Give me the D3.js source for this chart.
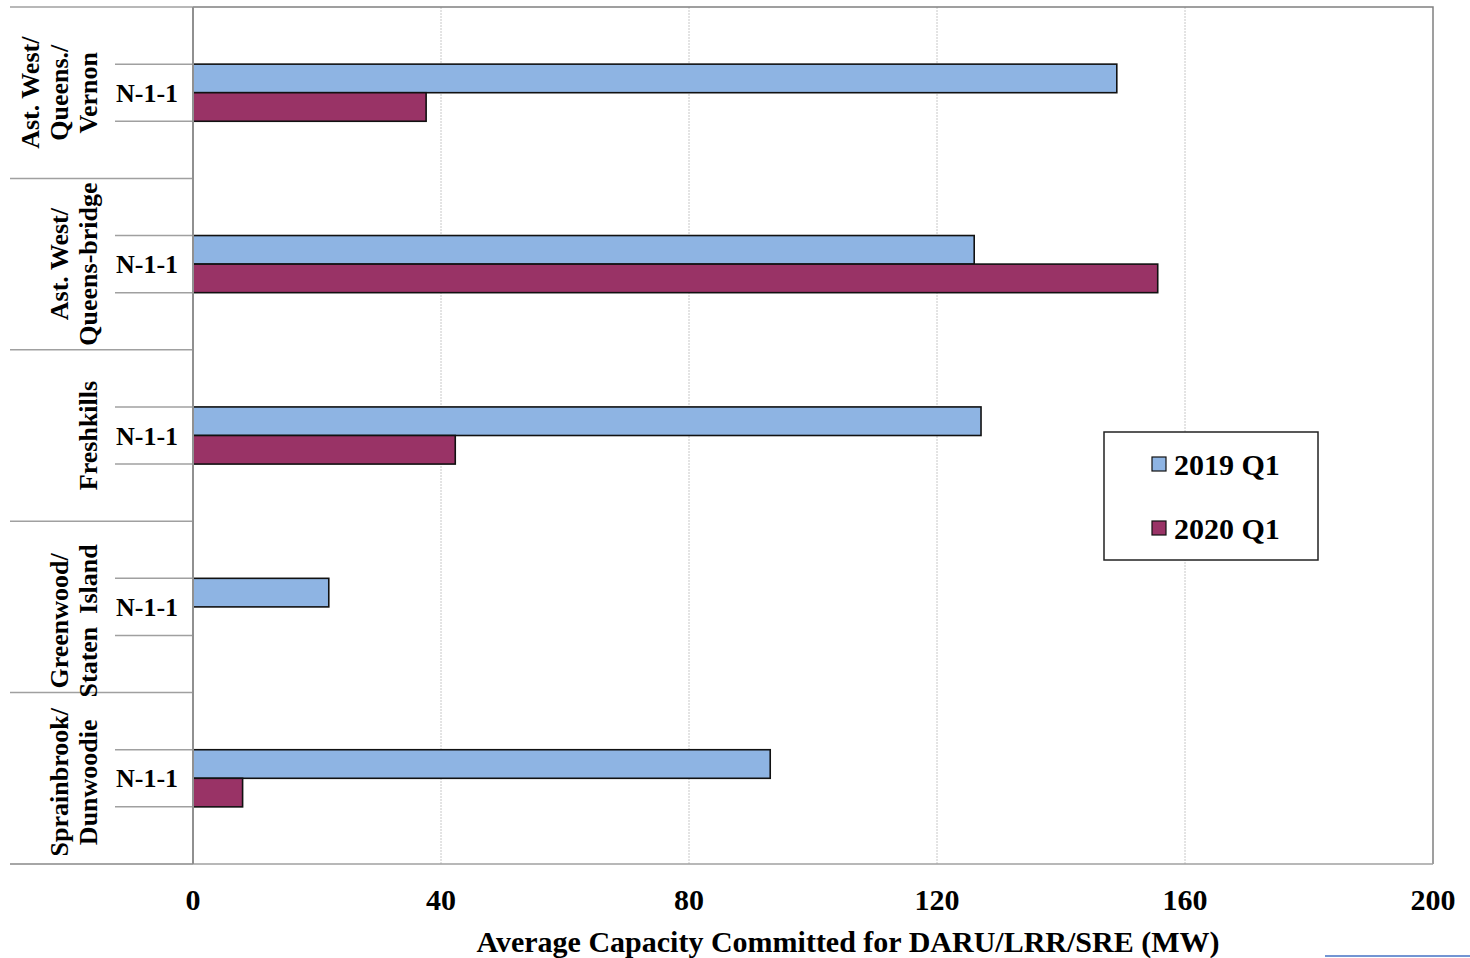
<!DOCTYPE html>
<html>
<head>
<meta charset="utf-8">
<script src="https://cdn.jsdelivr.net/npm/d3@7"></script>
<style>
  html, body { margin: 0; padding: 0; background: #fff; }
  svg { display: block; }
  text { font-family: "Liberation Serif", "Times New Roman", serif; font-weight: bold; fill: #000; white-space: pre; }
</style>
</head>
<body>
<svg id="chart" width="1470" height="958"></svg>
<script>
// Zones (outer categories), one contingency row each
const groups = [
  ["Ast. West/", "Queens./", "Vernon"],
  ["Ast. West/", "Queens-bridge"],
  ["Freshkills"],
  ["Greenwood/", "Staten  Island"],
  ["Sprainbrook/", "Dunwoodie"]
];
const subRows = ["pre", "N-1-1", "post"];
const seriesNames = ["2019 Q1", "2020 Q1"];
const seriesColors = ["#8EB4E3", "#993366"];
const values2019 = [149.0, 126.0, 127.1, 21.9, 93.1];
const values2020 = [37.6, 155.6, 42.3, 0, 8.0];
const xTicks = [0, 40, 80, 120, 160, 200];
const xTitle = "Average Capacity Committed for DARU/LRR/SRE (MW)";

const svg = d3.select("#chart");
const plotL = 193, plotR = 1433, plotT = 7, plotB = 864;

const x = d3.scaleLinear().domain([0, 200]).range([plotL, plotR]);
const yGroup = d3.scaleBand().domain(d3.range(groups.length)).range([plotT, plotB]).padding(0);
const ySub = d3.scaleBand().domain(subRows).range([0, yGroup.bandwidth()]).padding(0);
const ySeries = d3.scaleBand().domain(seriesNames).range([0, ySub.bandwidth()]).padding(0);

// vertical gridlines
svg.append("g").selectAll("line")
  .data(xTicks.filter(d => d > 0 && d < 200))
  .join("line")
  .attr("x1", d => x(d)).attr("x2", d => x(d))
  .attr("y1", plotT).attr("y2", plotB)
  .attr("stroke", "#c8c8c8").attr("stroke-width", 1)
  .attr("stroke-dasharray", "2,1");

// plot frame (top & right)
svg.append("path")
  .attr("d", `M${plotL},${plotT}H${plotR}V${plotB}`)
  .attr("fill", "none").attr("stroke", "#808080").attr("stroke-width", 1.5);

// bars
const bars = [];
groups.forEach((g, i) => {
  bars.push({ g: i, s: seriesNames[0], v: values2019[i], c: seriesColors[0] });
  bars.push({ g: i, s: seriesNames[1], v: values2020[i], c: seriesColors[1] });
});
svg.append("g").selectAll("rect")
  .data(bars.filter(d => d.v > 0))
  .join("rect")
  .attr("x", x(0))
  .attr("y", d => yGroup(d.g) + ySub("N-1-1") + ySeries(d.s))
  .attr("width", d => x(d.v) - x(0))
  .attr("height", ySeries.bandwidth())
  .attr("fill", d => d.c)
  .attr("stroke", "#111").attr("stroke-width", 1.6);

// category axis: group separators and sub-row separators
const axisG = svg.append("g");
const groupEdges = d3.range(groups.length + 1).map(i => i < groups.length ? yGroup(i) : plotB);
axisG.selectAll("line.grp")
  .data(groupEdges)
  .join("line").attr("class", "grp")
  .attr("x1", 10).attr("x2", plotL)
  .attr("y1", d => d).attr("y2", d => d)
  .attr("stroke", "#a0a0a0").attr("stroke-width", 1.5);
const subEdges = [];
groups.forEach((g, i) => {
  subEdges.push(yGroup(i) + ySub("N-1-1"));
  subEdges.push(yGroup(i) + ySub("N-1-1") + ySub.bandwidth());
});
axisG.selectAll("line.sub")
  .data(subEdges)
  .join("line").attr("class", "sub")
  .attr("x1", 115).attr("x2", plotL)
  .attr("y1", d => d).attr("y2", d => d)
  .attr("stroke", "#a0a0a0").attr("stroke-width", 1.5);

// bottom line of the plot
svg.append("line")
  .attr("x1", 10).attr("x2", plotR)
  .attr("y1", plotB).attr("y2", plotB)
  .attr("stroke", "#a0a0a0").attr("stroke-width", 1.5);
// value axis baseline (left edge)
svg.append("line")
  .attr("x1", plotL).attr("x2", plotL)
  .attr("y1", plotT).attr("y2", plotB)
  .attr("stroke", "#909090").attr("stroke-width", 2);

// sub-row labels
axisG.selectAll("text.sub")
  .data(groups.map((g, i) => i))
  .join("text").attr("class", "sub")
  .attr("x", 147)
  .attr("y", i => yGroup(i) + ySub("N-1-1") + ySub.bandwidth() / 2)
  .attr("dy", "0.35em")
  .attr("text-anchor", "middle")
  .attr("font-size", 26)
  .text("N-1-1");

// rotated group labels
const lineGap = 29;
const labelOffsets = [0, 0, 0, 14, 4];
groups.forEach((lines, i) => {
  const cy = yGroup(i) + yGroup.bandwidth() / 2 + labelOffsets[i];
  const n = lines.length;
  const lastX = 97;
  const t = svg.append("text")
    .attr("transform", `translate(0,${cy}) rotate(-90)`)
    .attr("text-anchor", "middle")
    .attr("font-size", 26);
  lines.forEach((s, k) => {
    t.append("tspan")
      .attr("x", 0)
      .attr("y", lastX - (n - 1 - k) * lineGap)
      .text(s);
  });
});

// x tick labels
svg.append("g").selectAll("text")
  .data(xTicks)
  .join("text")
  .attr("x", d => x(d))
  .attr("y", 910)
  .attr("text-anchor", "middle")
  .attr("font-size", 30)
  .text(d => d);

// x axis title
svg.append("text")
  .attr("x", 848).attr("y", 952)
  .attr("text-anchor", "middle")
  .attr("font-size", 30)
  .text(xTitle);

// legend
const lg = svg.append("g");
lg.append("rect")
  .attr("x", 1104).attr("y", 432).attr("width", 214).attr("height", 128)
  .attr("fill", "#fff").attr("stroke", "#222").attr("stroke-width", 1.5);
seriesNames.forEach((s, k) => {
  const yy = 465 + k * 64;
  lg.append("rect")
    .attr("x", 1152).attr("y", yy - 8).attr("width", 14).attr("height", 14)
    .attr("fill", seriesColors[k]).attr("stroke", "#111").attr("stroke-width", 1.2);
  lg.append("text")
    .attr("x", 1174).attr("y", yy + 10)
    .attr("font-size", 30)
    .text(s);
});

// short rule at the lower right
svg.append("line")
  .attr("x1", 1325).attr("x2", 1470)
  .attr("y1", 956).attr("y2", 956)
  .attr("stroke", "#4472C4").attr("stroke-width", 1.5);
</script>
</body>
</html>
